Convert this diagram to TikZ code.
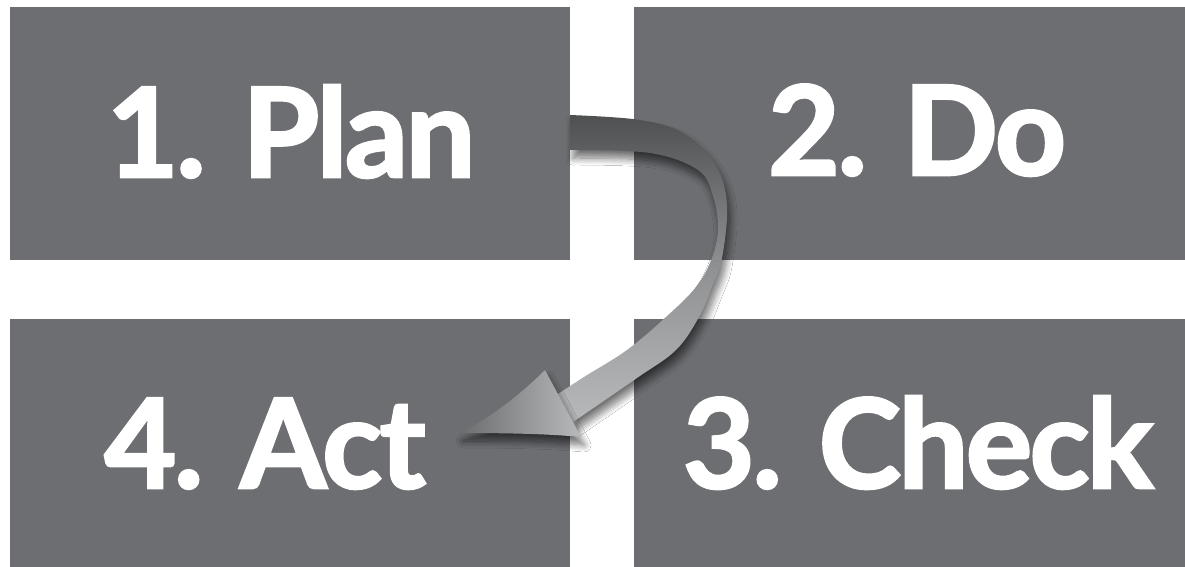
\documentclass[tikz,border=0pt]{standalone}
\usepackage{fontspec}
\setmainfont{Lato}[BoldFeatures={FakeBold=2.2,LetterSpace=-2}]
\usetikzlibrary{shadows.blur}
\definecolor{boxgray}{HTML}{6D6E72}
\definecolor{arrdark}{HTML}{4F5052}
\definecolor{arrmid}{HTML}{909193}
\definecolor{arrlight}{HTML}{B8B9BB}
\begin{document}
\begin{tikzpicture}[x=1pt,y=-1pt,
  box/.style={fill=boxgray, draw=none, anchor=north west, inner sep=0pt},
  lbl/.style={text=white, font=\fontsize{124}{124}\selectfont\bfseries, anchor=base, inner sep=0pt},
  shade/.style={blur shadow={shadow xshift=3pt, shadow yshift=-8pt, shadow blur steps=10, shadow blur radius=7pt, shadow opacity=55}}]
\useasboundingbox (0,0) rectangle (1185,567);
\fill[white] (0,0) rectangle (1185,567);
% boxes
\node[box, minimum width=560pt, minimum height=253pt] (planbox) at (10,7) {};
\node[box, minimum width=551pt, minimum height=253pt] (dobox) at (634,7) {};
\node[box, minimum width=560pt, minimum height=248pt] (actbox) at (10,319) {};
\node[box, minimum width=551pt, minimum height=248pt] (checkbox) at (634,319) {};
% labels
\node[lbl] (plan) at (291,177) {1. Plan};
\node[lbl] (do) at (917,175) {2. Do};
\node[lbl] (act) at (265,488) {4. Act};
\node[lbl] (check) at (918,488) {3. Check};
% curved arrow from Plan to Act
\coordinate (b1) at (545,370);
\coordinate (b2) at (581,437);
\coordinate (tip) at (460,433);
\path[shade, top color=arrdark, bottom color=arrlight, middle color=arrmid]
  plot[smooth, tension=0.6] coordinates {(570,115) (640,120) (685,134) (716,166) (727,205) (722,258) (712,287) (699,317) (676,350) (637,378) (573,422)}
  -- plot[smooth, tension=0.6] coordinates {(555,396) (584,377) (627,350) (666,317) (696,287) (712,258) (718,228) (713,196) (698,170) (650,153) (570,150)}
  -- cycle;
\path[shade, left color=arrmid!75!black, right color=arrlight]
  (b1) .. controls (520,395) and (490,418) .. (tip)
  .. controls (510,433) and (550,434) .. (b2) -- cycle;
\end{tikzpicture}
\end{document}
